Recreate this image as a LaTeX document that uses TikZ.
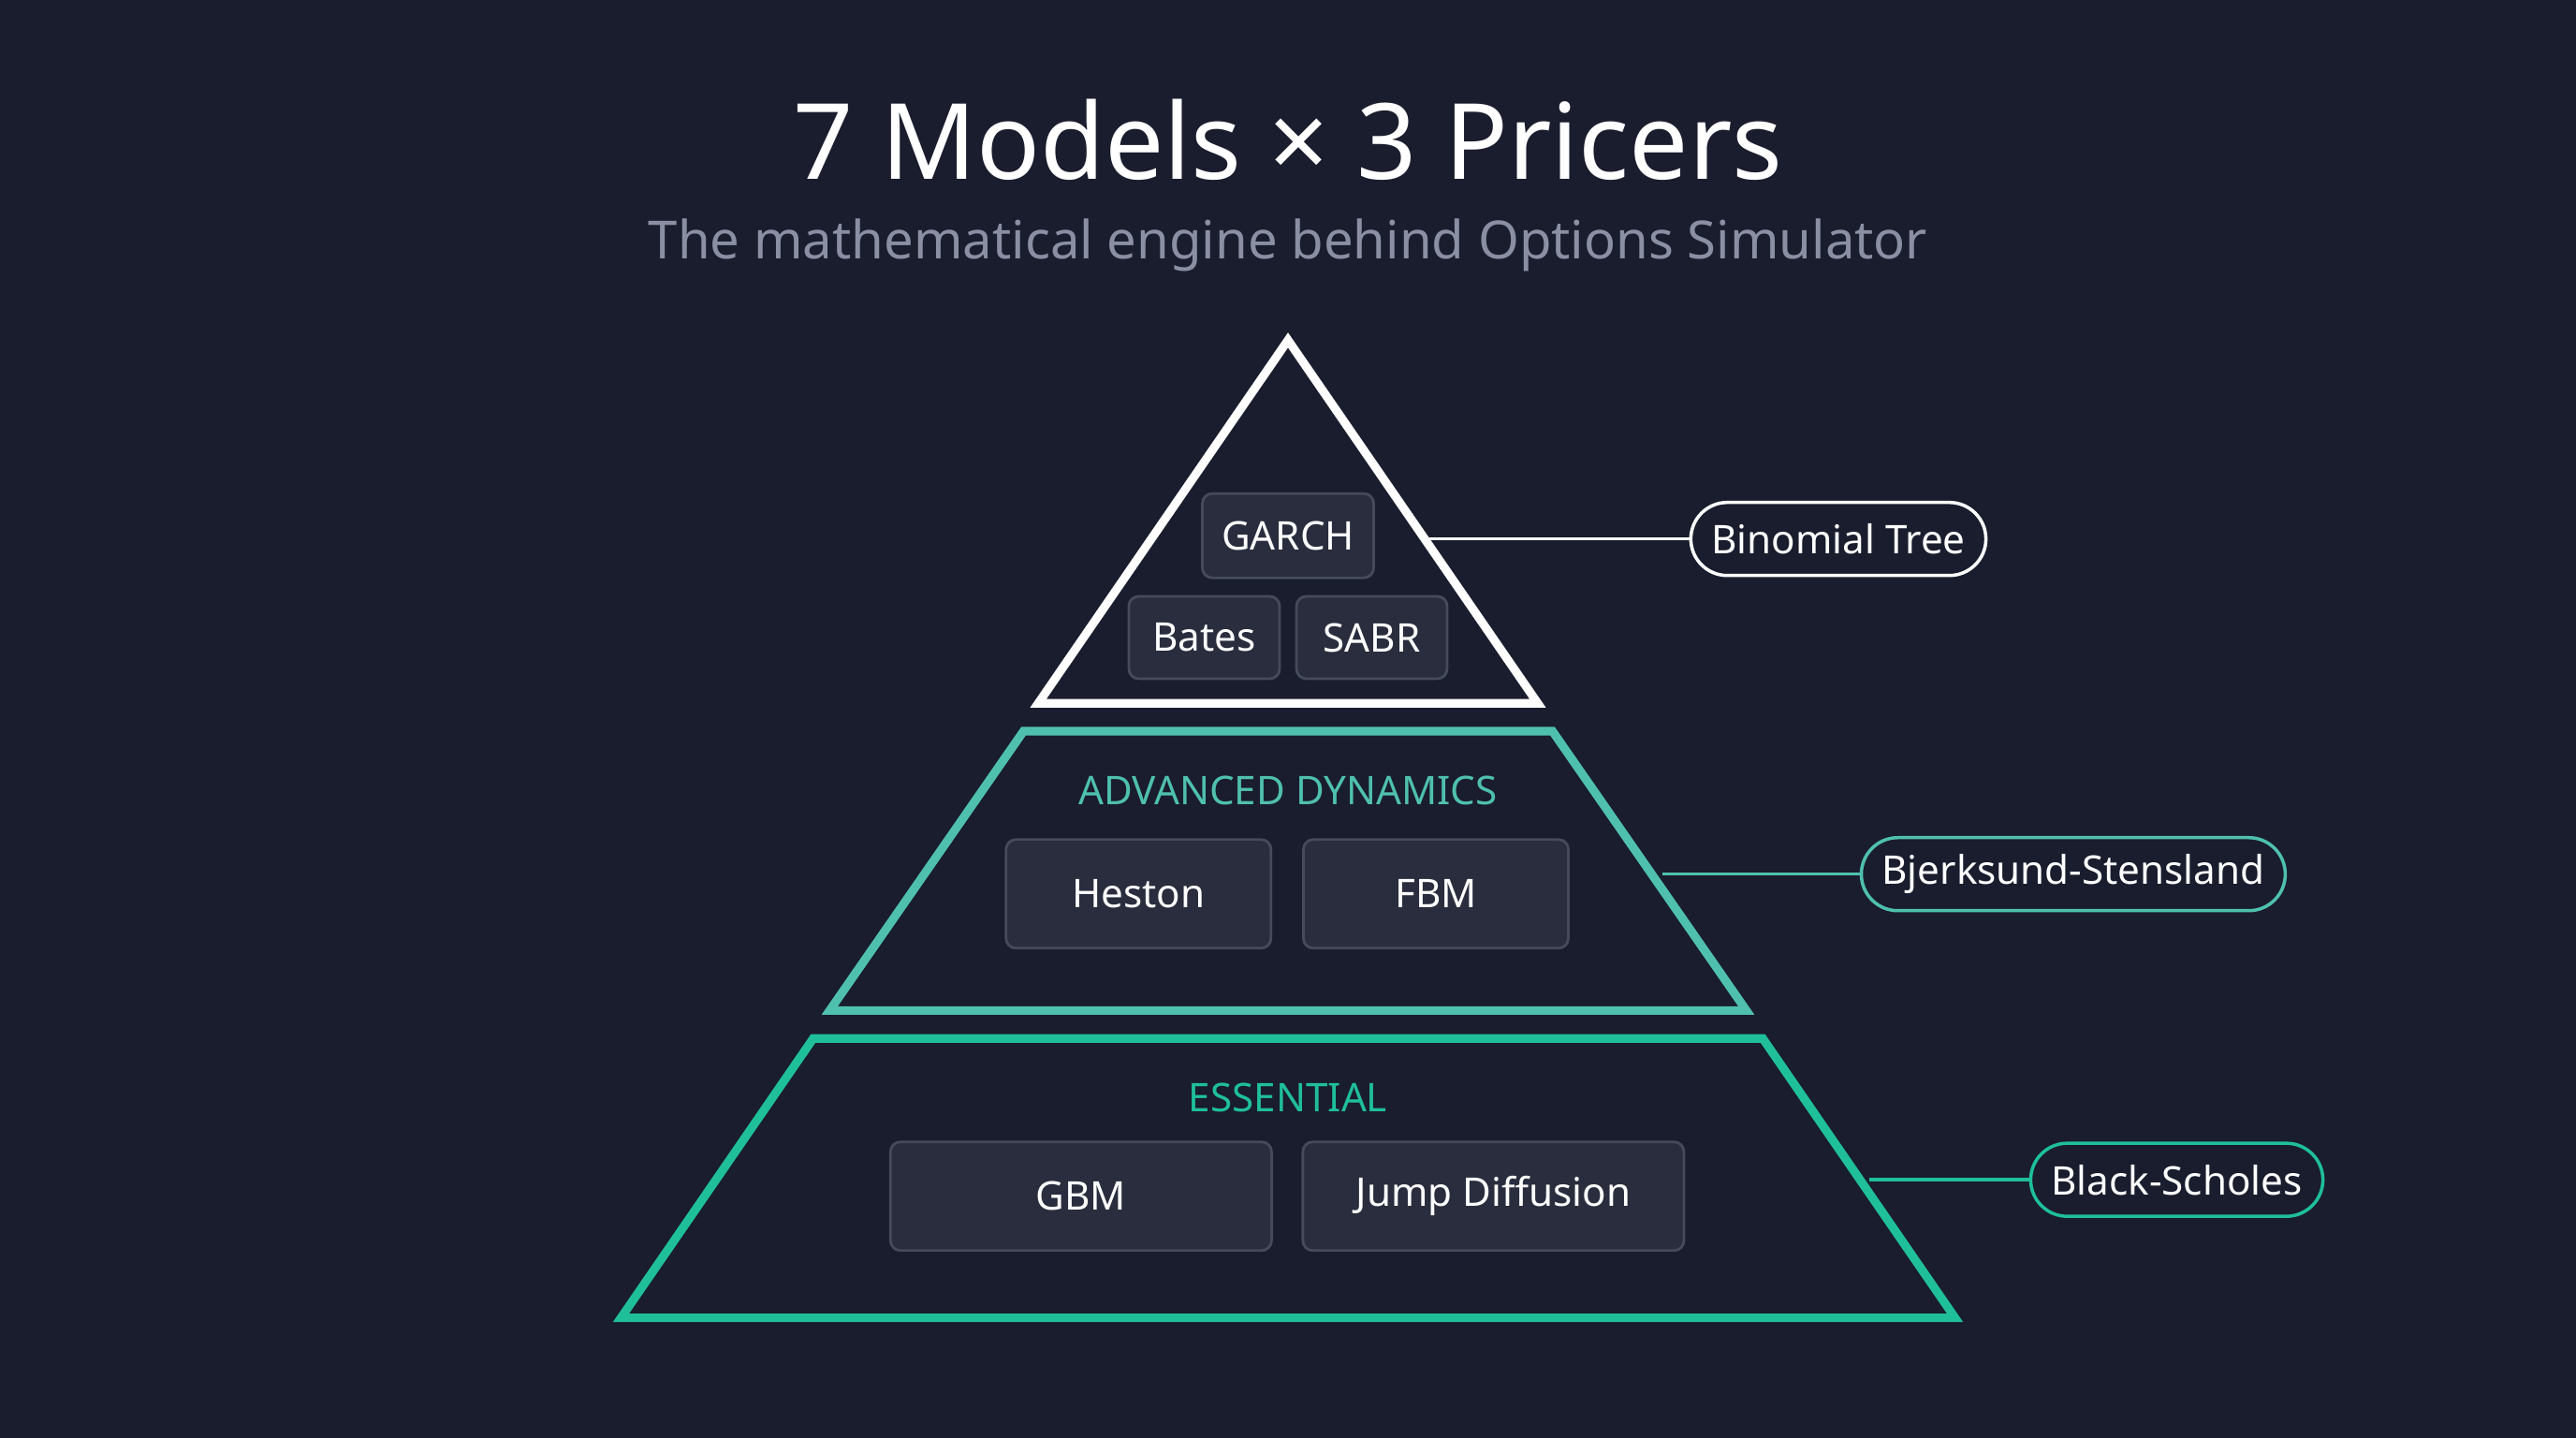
\documentclass[tikz,border=0pt]{standalone}
\usepackage{fontspec}
\setmainfont{Noto Sans}
\definecolor{bgcol}{HTML}{191D2E}
\definecolor{subgray}{HTML}{8A8FA3}
\definecolor{boxfill}{HTML}{292D3D}
\definecolor{boxline}{HTML}{454A5C}
\definecolor{tealmid}{HTML}{4FC0AE}
\definecolor{tealbase}{HTML}{1FBF9A}

\begin{document}
\begin{tikzpicture}[x=0.01755cm,y=-0.01755cm]
\tikzset{model/.style={draw=boxline,fill=boxfill,rounded corners=3pt,text=white,font=\fontsize{12}{14}\selectfont,line width=0.8pt},
  pricer/.style={draw=#1,fill=bgcol,rounded corners=0.39cm,text=white,font=\fontsize{12}{14}\selectfont,minimum height=0.78cm,inner xsep=0.22cm,line width=1pt},
  tier/.style={line width=2.6pt,line join=miter},
  tierlabel/.style={font=\bfseries\fontsize{12}{14}\selectfont}}
\fill[bgcol] (0,0) rectangle (1568,875);

\node[text=white,font=\bfseries\fontsize{32}{38}\selectfont] (title) at (784,85) {7 Models × 3 Pricers};
\node[text=subgray,font=\fontsize{16}{19}\selectfont] (subtitle) at (784,149) {The mathematical engine behind Options Simulator};

% tiers
\draw[tier,white] (784,207) -- (936,428) -- (632,428) -- cycle;
\draw[tier,tealmid] (623,445) -- (945,445) -- (1063,615) -- (505,615) -- cycle;
\draw[tier,tealbase] (495,632) -- (1073,632) -- (1190,802) -- (378,802) -- cycle;

\node[tierlabel,text=tealmid] (adv) at (784,481) {ADVANCED DYNAMICS};
\node[tierlabel,text=tealbase] (ess) at (784,668) {ESSENTIAL};

% models
\node[model,minimum width=1.83cm,minimum height=0.9cm] (garch) at (784,326) {GARCH};
\node[model,minimum width=1.61cm,minimum height=0.88cm] (bates) at (733,388) {Bates};
\node[model,minimum width=1.61cm,minimum height=0.88cm] (sabr) at (835,388) {SABR};
\node[model,minimum width=2.83cm,minimum height=1.16cm] (heston) at (693,544) {Heston};
\node[model,minimum width=2.83cm,minimum height=1.16cm] (fbm) at (874,544) {FBM};
\node[model,minimum width=4.07cm,minimum height=1.16cm] (gbm) at (658,728) {GBM};
\node[model,minimum width=4.07cm,minimum height=1.16cm] (jump) at (909,728) {Jump Diffusion};

% pricers
\node[pricer=white] (binom) at (1119,328) {Binomial Tree};
\node[pricer=tealmid] (bjs) at (1262,532) {Bjerksund-Stensland};
\node[pricer=tealbase] (bs) at (1325,718) {Black-Scholes};
\coordinate (tipA) at (870,328);
\coordinate (tipB) at (1012,532);
\coordinate (tipC) at (1138,718);
\draw[white,line width=1pt] (tipA) -- (binom);
\draw[tealmid,line width=1pt] (tipB) -- (bjs);
\draw[tealbase,line width=1pt] (tipC) -- (bs);
\end{tikzpicture}
\end{document}
